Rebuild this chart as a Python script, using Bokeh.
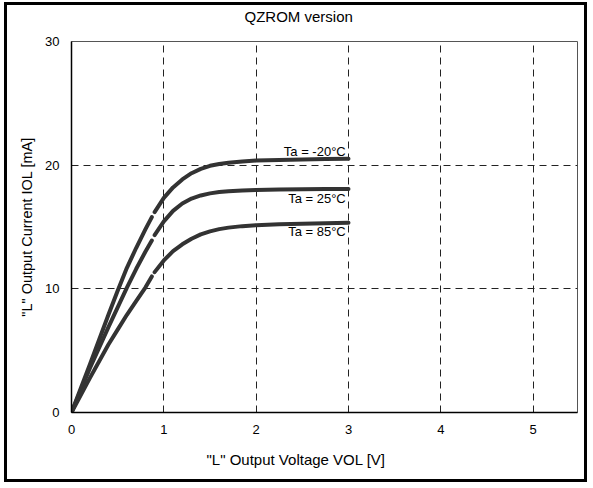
import math
from bokeh.plotting import figure
from bokeh.models import Range1d, FixedTicker, Label, Title
from bokeh.embed import file_html
from bokeh.resources import INLINE

# ---- data ----
nan = math.nan
vol = [0, 0.2, 0.4, 0.5, 0.6, 0.7, 0.8, 0.87, nan, 0.9, 1.0, 1.1, 1.2, 1.3, 1.4,
       1.5, 1.6, 1.7, 1.85, 2.0, 2.25, 2.5, 2.75, 3.0]
iol_m20 = [0, 3.9, 7.9, 9.85, 11.7, 13.3, 14.8, 15.8, nan, 16.2, 17.35, 18.2, 18.85,
           19.35, 19.7, 19.95, 20.1, 20.2, 20.3, 20.37, 20.42, 20.46, 20.5, 20.52]
iol_25 = [0, 3.6, 6.9, 8.5, 10.1, 11.6, 13.0, 13.9, nan, 14.35, 15.45, 16.3, 16.9,
          17.3, 17.55, 17.72, 17.83, 17.9, 17.96, 18.0, 18.03, 18.05, 18.07, 18.08]
iol_85 = [0, 2.8, 5.5, 6.7, 7.9, 9.0, 10.1, 11.0, nan, 11.35, 12.3, 13.05, 13.6,
          14.05, 14.4, 14.65, 14.83, 14.95, 15.07, 15.15, 15.22, 15.27, 15.31, 15.35]
series_labels = ["Ta = -20°C", "Ta = 25°C", "Ta = 85°C"]
label_x = [2.97, 2.97, 2.97]
label_y = [21.1, 17.3, 14.6]
x_ticks = [0, 1, 2, 3, 4, 5]
y_ticks = [0, 10, 20, 30]

FONT = "Liberation Sans"

p = figure(width=583, height=480, output_backend="svg", toolbar_location=None,
           x_range=Range1d(0, 5.48), y_range=Range1d(0, 30),
           min_border_left=64, min_border_right=13, min_border_top=35,
           min_border_bottom=73)
p.styles = {"border": "3px solid black", "margin": "2px 0 0 4px"}
p.background_fill_color = "white"
p.border_fill_color = "white"
p.outline_line_color = "#555555"
p.outline_line_width = 1

title = Title(text="QZROM version\n ", align="left", offset=173,
              text_font=FONT, text_font_size="15px", text_font_style="normal",
              text_color="black", standoff=0)
p.add_layout(title, "above")

for ax in (p.xaxis[0], p.yaxis[0]):
    ax.axis_line_color = "black"
    ax.axis_line_width = 1.5
    ax.major_tick_in = 0
    ax.major_tick_out = 0
    ax.minor_tick_line_color = None
    ax.major_label_text_font = FONT
    ax.major_label_text_font_size = "13px"
    ax.major_label_text_color = "black"
    ax.axis_label_text_font = FONT
    ax.axis_label_text_font_size = "14.5px"
    ax.axis_label_text_font_style = "normal"
    ax.axis_label_text_color = "black"

p.xaxis.ticker = FixedTicker(ticks=x_ticks)
p.yaxis.ticker = FixedTicker(ticks=y_ticks)
p.xaxis.major_label_standoff = 12
p.yaxis.major_label_standoff = 12
p.yaxis.axis_label = '"L" Output Current IOL [mA]'
p.yaxis.axis_label_standoff = 7

xlabel = Title(text='"L" Output Voltage VOL [V]', align="left", offset=135,
               text_font=FONT, text_font_size="15px", text_font_style="normal",
               text_color="black", standoff=25)
p.add_layout(xlabel, "below")

p.xgrid.ticker = FixedTicker(ticks=x_ticks[1:])
p.ygrid.ticker = FixedTicker(ticks=y_ticks[1:-1])
for g in (p.xgrid[0], p.ygrid[0]):
    g.grid_line_color = "#222222"
    g.grid_line_width = 1
    g.grid_line_dash = "7 5"

for ys in (iol_m20, iol_25, iol_85):
    p.line(vol, ys, line_color="#333333", line_width=4, line_cap="round",
           line_join="round")

for t, lx, ly in zip(series_labels, label_x, label_y):
    p.add_layout(Label(x=lx, y=ly, text=t, text_align="right", text_baseline="middle",
                       text_font=FONT, text_font_size="13px", text_color="black"))

open("out.html", "w").write(file_html(p, INLINE))
